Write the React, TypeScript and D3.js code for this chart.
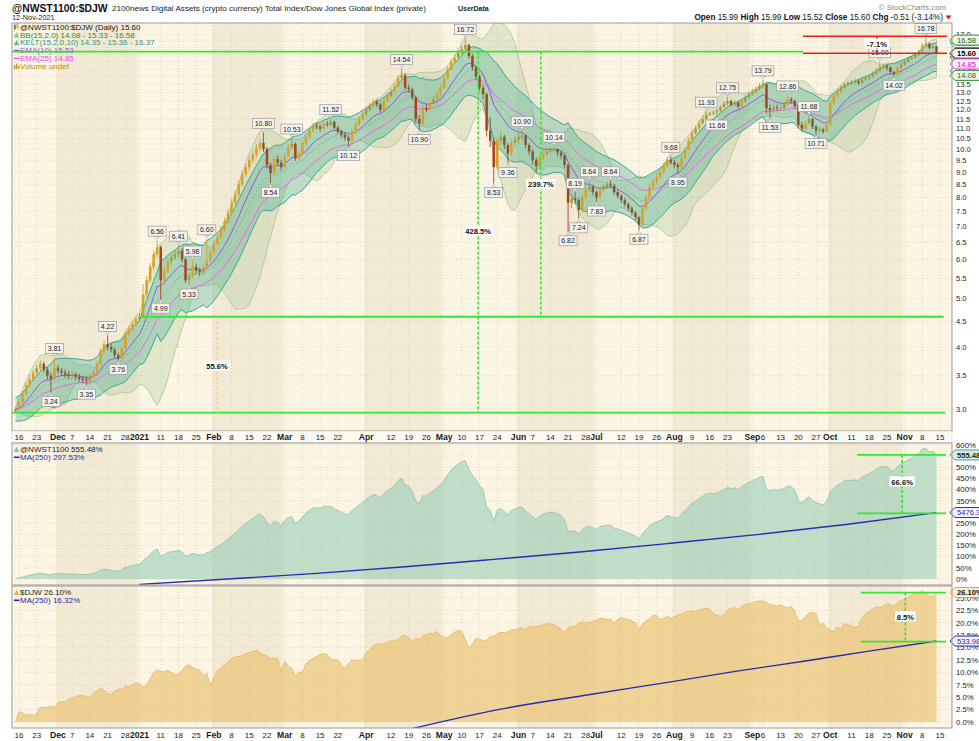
import React from 'react';
import * as d3 from 'd3';

// @NWST1100:$DJW daily bars, 13-Nov-2020 .. 12-Nov-2021 (one row per week)
const firstOpen = 2.97;
const closes = [3.00,
  3.10, 3.22, 3.35, 3.45, 3.55,
  3.62, 3.70, 3.60, 3.50, 3.45,
  3.62, 3.58, 3.55, 3.52, 3.50,
  3.52, 3.48, 3.45, 3.44, 3.42,
  3.48, 3.55, 3.70, 3.92, 4.05,
  4.00, 3.95, 3.85, 3.80, 3.98,
  4.25, 4.35, 4.45, 4.55, 4.60,
  5.10, 5.45, 5.80, 6.15, 6.35,
  5.45, 5.70, 5.95, 6.05, 6.15,
  6.25, 6.00, 5.45, 5.55, 5.80,
  5.70, 5.65, 5.75, 5.95, 6.20,
  6.45, 6.65, 6.90, 7.15, 7.45,
  7.80, 8.10, 8.50, 8.90, 9.20,
  9.50, 9.75, 10.05, 10.30, 10.00,
  9.30, 8.95, 9.55, 9.40, 9.20,
  9.70, 10.10, 10.25, 9.60, 9.80,
  10.30, 10.60, 10.90, 11.15, 11.10,
  11.00, 11.25, 11.20, 11.35, 11.05,
  10.85, 10.70, 10.55, 10.40, 10.85,
  11.20, 11.50, 11.80, 12.00, 12.20,
  12.45, 12.30, 12.00, 12.50, 12.80,
  13.05, 13.40, 13.90, 14.10, 13.30,
  13.20, 12.70, 11.50, 11.25, 12.10,
  12.00, 12.40, 12.60, 12.90, 13.30,
  13.90, 14.50, 15.00, 15.30, 15.60,
  15.90, 16.20, 15.40, 14.60, 14.00,
  13.30, 12.90, 10.90, 10.40, 9.20,
  10.40, 10.60, 10.20, 9.80, 10.30,
  10.45, 10.60, 10.65, 10.20, 9.90,
  9.50, 9.25, 9.60, 9.80, 9.90,
  10.00, 10.00, 9.85, 9.70, 9.30,
  7.80, 7.95, 7.90, 7.55, 8.00,
  8.30, 8.40, 8.20, 8.00, 8.30,
  8.40, 8.50, 8.45, 8.20, 8.05,
  7.90, 7.75, 7.60, 7.45, 7.30,
  7.05, 7.60, 8.00, 8.40, 8.60,
  8.80, 9.00, 9.25, 9.50, 9.40,
  9.30, 9.20, 9.60, 10.00, 10.40,
  10.80, 11.00, 11.30, 11.50, 11.72,
  11.80, 11.85, 11.95, 12.15, 12.35,
  12.50, 12.30, 12.40, 12.20, 12.50,
  12.70, 12.90, 13.05, 13.20, 13.40,
  13.50, 12.10, 12.00, 12.15, 12.10,
  12.10, 12.30, 12.60, 12.50, 12.20,
  11.20, 11.00, 11.30, 11.50, 11.10,
  10.90, 10.95, 10.85, 11.20, 12.40,
  12.80, 13.10, 13.30, 13.50, 13.60,
  13.60, 13.70, 13.60, 13.80, 13.90,
  14.00, 14.20, 14.40, 14.60, 14.70,
  14.60, 14.30, 14.20, 14.60, 14.80,
  15.00, 15.20, 15.30, 15.50, 15.70,
  16.20, 16.30, 16.00, 16.11, 15.60];

const highs = [3.03,
  3.14, 3.26, 3.40, 3.52, 3.61,
  3.68, 3.76, 3.74, 3.64, 3.56,
  3.81, 3.68, 3.63, 3.60, 3.58,
  3.58, 3.56, 3.53, 3.50, 3.49,
  3.53, 3.60, 3.75, 3.98, 4.12,
  4.22, 4.06, 3.99, 3.90, 4.03,
  4.30, 4.42, 4.52, 4.62, 4.68,
  5.35, 5.55, 5.90, 6.25, 6.56,
  6.40, 5.80, 6.05, 6.15, 6.25,
  6.41, 6.32, 6.05, 5.65, 5.98,
  5.88, 5.78, 5.85, 6.60, 6.30,
  6.55, 6.75, 7.00, 7.28, 7.58,
  7.95, 8.25, 8.65, 9.05, 9.38,
  9.68, 9.92, 10.22, 10.48, 10.80,
  10.10, 9.40, 9.68, 9.72, 9.52,
  9.82, 10.25, 10.53, 10.32, 9.95,
  10.42, 10.75, 11.05, 11.30, 11.32,
  11.22, 11.38, 11.40, 11.52, 11.42,
  11.15, 10.95, 10.82, 10.65, 10.98,
  11.35, 11.65, 11.95, 12.18, 12.38,
  12.62, 12.60, 12.40, 12.65, 12.98,
  13.25, 13.60, 14.10, 14.54, 14.20,
  13.50, 13.30, 12.80, 11.70, 12.25,
  12.30, 12.55, 12.78, 13.08, 13.50,
  14.10, 14.70, 15.20, 15.55, 15.85,
  16.15, 16.72, 16.30, 15.55, 14.75,
  14.10, 13.50, 13.00, 11.60, 10.60,
  10.55, 10.85, 10.70, 10.30, 10.45,
  10.62, 10.78, 10.90, 10.72, 10.28,
  9.98, 9.62, 9.75, 9.95, 10.05,
  10.10, 10.14, 10.05, 9.92, 9.78,
  9.35, 8.10, 8.19, 7.98, 8.10,
  8.42, 8.64, 8.48, 8.25, 8.40,
  8.50, 8.58, 8.64, 8.50, 8.28,
  8.12, 7.98, 7.82, 7.68, 7.52,
  7.35, 7.70, 8.12, 8.52, 8.75,
  8.95, 9.12, 9.40, 9.62, 9.68,
  9.52, 9.40, 9.72, 10.12, 10.55,
  10.95, 11.15, 11.45, 11.68, 11.93,
  11.88, 11.95, 12.05, 12.28, 12.48,
  12.75, 12.58, 12.52, 12.48, 12.62,
  12.85, 13.05, 13.22, 13.38, 13.58,
  13.79, 13.55, 12.30, 12.35, 12.30,
  12.25, 12.45, 12.86, 12.72, 12.58,
  12.25, 11.35, 11.42, 11.68, 11.55,
  11.20, 11.10, 11.05, 11.32, 12.50,
  12.95, 13.25, 13.45, 13.65, 13.75,
  13.78, 13.85, 13.82, 13.95, 14.05,
  14.15, 14.35, 14.58, 15.00, 14.88,
  14.85, 14.68, 14.40, 14.72, 14.95,
  15.15, 15.35, 15.45, 15.65, 15.85,
  16.35, 16.78, 16.40, 16.25, 16.11];

const lows = [2.95,
  2.98, 3.07, 3.18, 3.31, 3.40,
  3.50, 3.58, 3.55, 3.44, 3.24,
  3.42, 3.53, 3.50, 3.47, 3.45,
  3.46, 3.43, 3.40, 3.38, 3.35,
  3.39, 3.45, 3.52, 3.67, 3.88,
  3.94, 3.90, 3.80, 3.76, 3.78,
  3.95, 4.20, 4.30, 4.40, 4.50,
  4.58, 5.02, 5.38, 5.72, 6.05,
  4.99, 5.35, 5.62, 5.85, 5.98,
  6.05, 5.92, 5.38, 5.33, 5.50,
  5.60, 5.55, 5.58, 5.70, 5.88,
  6.12, 6.38, 6.58, 6.82, 7.08,
  7.38, 7.70, 8.02, 8.40, 8.80,
  9.08, 9.38, 9.62, 9.92, 9.88,
  9.15, 8.54, 8.88, 9.28, 9.05,
  9.12, 9.62, 10.00, 9.48, 9.50,
  9.72, 10.20, 10.50, 10.80, 10.98,
  10.85, 10.92, 11.08, 11.10, 10.95,
  10.72, 10.55, 10.40, 10.12, 10.32,
  10.78, 11.10, 11.40, 11.70, 11.90,
  12.10, 12.15, 11.85, 11.92, 12.40,
  12.70, 12.95, 13.30, 13.80, 13.15,
  13.00, 12.55, 11.30, 10.90, 11.15,
  11.85, 11.90, 12.30, 12.50, 12.80,
  13.20, 13.80, 14.40, 14.90, 15.15,
  15.45, 15.75, 15.20, 14.40, 13.80,
  13.10, 12.60, 10.60, 10.10, 8.53,
  9.10, 10.20, 10.00, 9.36, 9.70,
  10.15, 10.30, 10.45, 10.05, 9.72,
  9.30, 8.95, 9.15, 9.50, 9.70,
  9.80, 9.85, 9.70, 9.55, 9.15,
  6.82, 7.60, 7.75, 7.24, 7.45,
  7.92, 8.20, 8.08, 7.83, 7.95,
  8.22, 8.30, 8.35, 8.10, 7.95,
  7.80, 7.65, 7.50, 7.35, 7.18,
  6.87, 7.00, 7.55, 7.92, 8.30,
  8.50, 8.70, 8.92, 9.15, 9.30,
  9.15, 8.95, 9.12, 9.52, 9.92,
  10.30, 10.70, 10.90, 11.20, 11.40,
  11.70, 11.72, 11.66, 11.88, 12.08,
  12.25, 12.18, 12.20, 12.08, 12.12,
  12.40, 12.60, 12.80, 12.95, 13.10,
  13.25, 11.80, 11.53, 11.85, 11.95,
  11.95, 12.00, 12.20, 12.35, 12.05,
  11.05, 10.85, 10.92, 11.20, 10.98,
  10.71, 10.78, 10.75, 10.80, 11.15,
  12.30, 12.70, 13.00, 13.20, 13.40,
  13.45, 13.50, 13.45, 13.52, 13.70,
  13.80, 13.92, 14.10, 14.30, 14.45,
  14.40, 14.15, 14.02, 14.12, 14.50,
  14.70, 14.90, 15.10, 15.20, 15.40,
  15.62, 16.05, 15.85, 15.90, 15.52];

// $DJW performance, % since first bar
const djwPerf = [0.0,
  2.1, 1.8, 1.4, 1.6, 1.3,
  1.6, 3.0, 2.9, 3.0, 3.2,
  2.9, 3.9, 4.1, 4.0, 4.6,
  4.8, 5.1, 5.4, 5.3, 5.2,
  4.9, 5.8, 6.3, 6.8, 6.5,
  5.7, 5.6, 6.2, 6.6, 6.6,
  7.2, 7.0, 7.6, 7.8, 7.8,
  7.0, 7.5, 8.7, 9.9, 10.5,
  10.2, 10.1, 10.4, 10.0, 9.5,
  9.6, 10.5, 11.2, 11.5, 11.0,
  10.6, 10.5, 9.3, 9.8, 7.4,
  9.0, 10.4, 10.9, 11.5, 12.1,
  12.8, 13.1, 13.2, 13.4, 13.8,
  14.0, 14.2, 14.5, 14.0, 13.6,
  13.3, 12.8, 12.9, 12.8, 10.1,
  12.2, 11.4, 10.8, 9.2, 10.1,
  10.0, 11.7, 12.4, 12.8, 13.2,
  13.6, 13.8, 13.6, 12.6, 12.5,
  12.5, 11.5, 10.8, 11.8, 12.5,
  12.4, 12.5, 12.4, 14.0, 14.5,
  15.4, 15.6, 15.8, 15.7, 16.2,
  16.3, 16.5, 16.5, 17.3, 17.5,
  17.1, 16.3, 16.9, 16.6, 17.3,
  17.6, 17.9, 17.7, 18.3, 17.4,
  17.1, 17.0, 17.6, 18.1, 18.5,
  18.2, 16.6, 14.9, 15.8, 16.9,
  16.7, 16.4, 16.5, 17.2, 17.3,
  17.8, 18.1, 18.0, 18.2, 18.6,
  18.6, 18.9, 19.0, 18.6, 19.3,
  19.2, 19.3, 19.4, 19.6, 19.8,
  19.8, 19.6, 19.2, 18.8, 18.0,
  18.9, 19.3, 19.2, 19.9, 20.2,
  20.0, 20.1, 20.3, 20.6, 20.9,
  20.9, 20.6, 20.8, 19.8, 20.7,
  21.0, 20.8, 20.7, 20.4, 20.0,
  18.6, 19.7, 20.4, 20.8, 21.5,
  21.5, 20.6, 20.9, 21.3, 20.9,
  21.1, 21.6, 21.7, 22.1, 22.3,
  22.4, 22.3, 22.6, 22.8, 23.0,
  22.7, 21.9, 21.5, 21.3, 21.7,
  22.6, 22.9, 23.1, 22.6, 23.4,
  23.7, 23.8, 24.0, 24.3, 24.4,
  24.4, 24.1, 23.6, 23.6, 23.4,
  23.6, 23.2, 23.0, 23.3, 22.3,
  20.3, 20.4, 21.2, 22.0, 22.1,
  21.8, 19.6, 19.9, 19.0, 18.6,
  18.2, 19.2, 18.7, 19.9, 19.6,
  19.3, 19.1, 19.4, 21.0, 21.9,
  22.2, 22.8, 23.2, 23.1, 23.4,
  23.9, 23.6, 23.4, 24.1, 24.5,
  24.8, 25.2, 25.6, 26.0, 26.2,
  26.3, 26.0, 25.3, 25.4, 26.1];

// MA(250) of the two performance lines, [bar index, %]
const nwstMa: [number, number][] = [[35, -24], [60, 0], [85, 25], [110, 55], [135, 88], [160, 122], [185, 160], [210, 200], [235, 245], [260, 297.5]];
const djwMa: [number, number][] = [[108, -2.0], [137, 2.6], [160, 5.3], [185, 8.1], [205, 10.4], [222, 12.2], [240, 14.2], [260, 16.32]];

// labelled swing points [bar index, price, H/L]
const pivots: [number, number, string][] = [
  [10, 3.24, 'L'], [11, 3.81, 'H'], [20, 3.35, 'L'], [26, 4.22, 'H'], [29, 3.76, 'L'],
  [40, 6.56, 'H'], [41, 4.99, 'L'], [46, 6.41, 'H'], [49, 5.33, 'L'], [50, 5.98, 'H'],
  [54, 6.60, 'H'], [70, 10.80, 'H'], [72, 8.54, 'L'], [78, 10.53, 'H'], [89, 11.52, 'H'],
  [94, 10.12, 'L'], [109, 14.54, 'H'], [114, 10.90, 'L'], [127, 16.72, 'H'], [135, 8.53, 'L'],
  [139, 9.36, 'L'], [143, 10.90, 'H'], [152, 10.14, 'H'], [156, 6.82, 'L'], [158, 8.19, 'H'],
  [159, 7.24, 'L'], [162, 8.64, 'H'], [164, 7.83, 'L'], [168, 8.64, 'H'], [176, 6.87, 'L'],
  [185, 9.68, 'H'], [187, 8.95, 'L'], [195, 11.93, 'H'], [198, 11.66, 'L'], [201, 12.75, 'H'],
  [211, 13.79, 'H'], [213, 11.53, 'L'], [218, 12.86, 'H'], [224, 11.68, 'H'], [226, 10.71, 'L'],
  [244, 15.00, 'H'], [248, 14.02, 'L'], [257, 16.78, 'H'],
];

const tickLabels: [string, string, number][] = [
  ['2020-11-16', '16', 0], ['2020-11-23', '23', 0], ['2020-12-01', 'Dec', 1], ['2020-12-07', '7', 0],
  ['2020-12-14', '14', 0], ['2020-12-21', '21', 0], ['2020-12-28', '28', 0], ['2021-01-01', '2021', 1],
  ['2021-01-11', '11', 0], ['2021-01-18', '18', 0], ['2021-01-25', '25', 0], ['2021-02-01', 'Feb', 1],
  ['2021-02-08', '8', 0], ['2021-02-15', '15', 0], ['2021-02-22', '22', 0], ['2021-03-01', 'Mar', 1],
  ['2021-03-08', '8', 0], ['2021-03-15', '15', 0], ['2021-03-22', '22', 0], ['2021-04-01', 'Apr', 1],
  ['2021-04-12', '12', 0], ['2021-04-19', '19', 0], ['2021-04-26', '26', 0], ['2021-05-03', 'May', 1],
  ['2021-05-10', '10', 0], ['2021-05-17', '17', 0], ['2021-05-24', '24', 0], ['2021-06-01', 'Jun', 1],
  ['2021-06-07', '7', 0], ['2021-06-14', '14', 0], ['2021-06-21', '21', 0], ['2021-06-28', '28', 0],
  ['2021-07-01', 'Jul', 1], ['2021-07-12', '12', 0], ['2021-07-19', '19', 0], ['2021-07-26', '26', 0],
  ['2021-08-02', 'Aug', 1], ['2021-08-09', '9', 0], ['2021-08-16', '16', 0], ['2021-08-23', '23', 0],
  ['2021-09-01', 'Sep', 1], ['2021-09-06', '6', 0], ['2021-09-13', '13', 0], ['2021-09-20', '20', 0],
  ['2021-09-27', '27', 0], ['2021-10-01', 'Oct', 1], ['2021-10-11', '11', 0], ['2021-10-18', '18', 0],
  ['2021-10-25', '25', 0], ['2021-11-01', 'Nov', 1], ['2021-11-08', '8', 0], ['2021-11-15', '15', 0],
];

const priceTicks = ['3.0', '3.5', '4.0', '4.5', '5.0', '5.5', '6.0', '6.5', '7.0', '7.5', '8.0', '8.5', '9.0', '9.5',
  '10.0', '10.5', '11.0', '11.5', '12.0', '12.5', '13.0', '13.5', '14.0', '14.5', '15.0', '15.5', '16.0', '16.5', '17.0'];
const nwstTicks = ['0%', '50%', '100%', '150%', '200%', '250%', '300%', '350%', '400%', '450%', '500%', '550%', '600%'];
const djwTicks = ['0.0%', '2.5%', '5.0%', '7.5%', '10.0%', '12.5%', '15.0%', '17.5%', '20.0%', '22.5%', '25.0%'];

// trend lines drawn on the chart (bar index span, level)
const priceLines = [
  { i0: -1, i1: 222.3, v: 15.72, kind: 'green' },
  { i0: 222.3, i1: 263, v: 15.60, kind: 'red' },
  { i0: 222.3, i1: 263, v: 16.88, kind: 'red' },
  { i0: 35, i1: 262, v: 4.60, kind: 'green' },
  { i0: -1, i1: 262.5, v: 2.95, kind: 'green' },
];
const priceSpans = [
  { i: 130.6, v0: 15.72, v1: 2.95, lv: 6.85, label: '428.5%', kind: 'green' },
  { i: 148.3, v0: 15.72, v1: 4.60, lv: 8.5, label: '239.7%', kind: 'green' },
  { i: 56.9, v0: 4.60, v1: 2.95, lv: 3.66, label: '55.6%', kind: 'orange' },
  { i: 243.2, v0: 16.88, v1: 15.60, lv: 16.28, label: '-7.1%', kind: 'red' },
];
const nwstLines = [{ i0: 237.6, i1: 262.7, v: 555.48 }, { i0: 237.6, i1: 262.7, v: 293.4 }];
const nwstSpan = { i: 250.3, v0: 555.48, v1: 293.4, lv: 435, label: '66.6%' };
const djwLines = [{ i0: 238.6, i1: 262.7, v: 26.1 }, { i0: 238.6, i1: 262.7, v: 16.2 }];
const djwSpan = { i: 251.2, v0: 26.1, v1: 16.2, lv: 21.2, label: '8.5%' };

const W = 979, H = 741, L = 12, R = 952;
const mainTop = 23, mainBot = 431, midTop = 443, midBot = 585, botTop = 586, botBot = 728;
const F = 'Liberation Sans, Arial, sans-serif';
const LIGHT = '#fcf5e3', DARK = '#f3ead6', GRID = '#d6ccb8';
const LIME = '#33e633', RED = '#ee2020', BLUE = '#2b2bb0';

function tradingDays(start: string, count: number) {
  const out: string[] = [];
  const d = new Date(start + 'T00:00:00Z');
  while (out.length < count) {
    const wd = d.getUTCDay();
    if (wd !== 0 && wd !== 6) out.push(d.toISOString().slice(0, 10));
    d.setUTCDate(d.getUTCDate() + 1);
  }
  return out;
}

function emaOf(vals: number[], n: number) {
  const k = 2 / (n + 1);
  const out: number[] = [];
  vals.forEach((v, i) => out.push(i === 0 ? v : v * k + out[i - 1] * (1 - k)));
  return out;
}

function Tag({ y, text, stroke, color, fill, bold }: any) {
  return (
    <g>
      <path d={`M${R - 2},${y} L${R + 3},${y - 5} H${W + 2} V${y + 5} H${R + 3} Z`} fill={fill} stroke={stroke} strokeWidth={1} />
      <text x={R + 5} y={y + 2.7} fontSize={7.6} fontWeight={bold ? 'bold' : 'normal'} fill={color} fontFamily={F}>{text}</text>
    </g>
  );
}

function PctLabel({ x, y, text }: any) {
  const w = text.length * 4.4 + 3;
  return (
    <g>
      <rect x={x - w / 2} y={y - 5.5} width={w} height={10} fill="#fff" />
      <text x={x} y={y + 2.8} textAnchor="middle" fontSize={7.6} fontWeight="bold" fontFamily={F} fill="#111">{text}</text>
    </g>
  );
}

export default function App() {
  const N = closes.length;
  const dates = tradingDays('2020-11-13', N + 1);
  const idx = (d: string) => dates.indexOf(d);
  const x = d3.scaleLinear().domain([0, N - 1]).range([15.5, 936.5]);
  const step = x(1) - x(0);
  const yP = d3.scaleLog().domain([3, 17]).range([409, 34.7]);
  const yN = d3.scaleLinear().domain([0, 600]).range([579, 445]);
  const yD = d3.scaleLinear().domain([0, 25]).range([722, 598]);

  const opens = closes.map((c, i) => (i === 0 ? firstOpen : closes[i - 1]));

  // indicators
  const bbMid: number[] = [], bbUp: number[] = [], bbLo: number[] = [];
  closes.forEach((_, i) => {
    const w = closes.slice(Math.max(0, i - 14), i + 1);
    const m = d3.mean(w) as number;
    const sd = Math.sqrt(d3.mean(w.map((v) => (v - m) ** 2)) as number);
    bbMid.push(m); bbUp.push(m + 2 * sd); bbLo.push(m - 2 * sd);
  });
  const tr = closes.map((c, i) => i === 0 ? highs[0] - lows[0]
    : Math.max(highs[i] - lows[i], Math.abs(highs[i] - closes[i - 1]), Math.abs(lows[i] - closes[i - 1])));
  const atr: number[] = [];
  tr.forEach((t, i) => atr.push(i === 0 ? t : (atr[i - 1] * 9 + t) / 10));
  const kMid = emaOf(closes, 15);
  const kUp = kMid.map((m, i) => m + 2 * atr[i]);
  const kLo = kMid.map((m, i) => m - 2 * atr[i]);
  const ema10 = emaOf(closes, 10);
  const ema25 = emaOf(closes, 25);

  const nwstPerf = closes.map((c, i) => ((c / closes[0]) * (1 + djwPerf[i] / 100) - 1) * 100);

  const band = (up: number[], lo: number[]) =>
    d3.area<number>().x((_, i) => x(i)).y0((_, i) => yP(lo[i])).y1((d) => yP(d))(up) as string;
  const pLine = (vals: number[]) => d3.line<number>().x((_, i) => x(i)).y((d) => yP(d))(vals) as string;

  const nwstArea = d3.area<number>().x((_, i) => x(i)).y0(yN(0)).y1((d) => yN(d))(nwstPerf) as string;
  const nwstEdge = d3.line<number>().x((_, i) => x(i)).y((d) => yN(d))(nwstPerf) as string;
  const djwArea = d3.area<number>().x((_, i) => x(i)).y0(yD(0)).y1((d) => yD(d))(djwPerf) as string;
  const djwEdge = d3.line<number>().x((_, i) => x(i)).y((d) => yD(d))(djwPerf) as string;
  const nwstMaPath = d3.line<[number, number]>().x((d) => x(d[0])).y((d) => yN(d[1])).curve(d3.curveMonotoneX)(nwstMa) as string;
  const djwMaPath = d3.line<[number, number]>().x((d) => x(d[0])).y((d) => yD(d[1])).curve(d3.curveMonotoneX)(djwMa) as string;

  // month shading
  const starts = d3.range(N).filter((i) => i === 0 || dates[i].slice(0, 7) !== dates[i - 1].slice(0, 7));
  const bands = starts.map((s, k) => ({
    x0: k === 0 ? L : x(s) - step / 2,
    x1: k < starts.length - 1 ? x(starts[k + 1]) - step / 2 : R,
    dark: +dates[s].slice(5, 7) % 2 === 0,
  }));
  const tickX = tickLabels.map(([d]) => x(idx(d)));

  const panelBg = (top: number, bottom: number) => (
    <g>
      <rect x={L} y={top} width={R - L} height={bottom - top} fill={LIGHT} />
      {bands.map((b, k) => (
        <rect key={k} x={b.x0} y={top} width={b.x1 - b.x0} height={bottom - top} fill={b.dark ? DARK : LIGHT} />
      ))}
      {tickX.map((tx, k) => (
        <line key={k} x1={tx} x2={tx} y1={top} y2={bottom} stroke={GRID} strokeWidth={0.7} strokeDasharray="1,2" />
      ))}
    </g>
  );

  const hGrid = (ys: number[]) => ys.map((y, k) => (
    <line key={k} x1={L} x2={R} y1={y} y2={y} stroke={GRID} strokeWidth={0.7} strokeDasharray="1,2" />
  ));

  const xLabels = (y: number) => tickLabels.map(([d, t, b]) => (
    <text key={d} x={x(idx(d))} y={y} textAnchor="middle" fontSize={b ? 8.6 : 8} fontWeight={b ? 'bold' : 'normal'}
      fontFamily={F} fill="#1a1a1a">{t}</text>
  ));

  const candleColor = (o: number, c: number) => {
    if (c >= o) return c / o - 1 > 0.02 ? '#d8a024' : '#a39b3b';
    return o / c - 1 > 0.05 ? '#a8441c' : '#7d5a36';
  };

  const spanColor = (k: string) => (k === 'red' ? RED : k === 'orange' ? '#f2c46e' : LIME);

  return (
    <div>
      <style>{'body{margin:0;background:#fff}'}</style>
      <svg width={W} height={H} viewBox={`0 0 ${W} ${H}`} style={{ display: 'block', background: '#fff' }}>
        <defs>
          <clipPath id="cMain"><rect x={L} y={mainTop} width={R - L} height={mainBot - mainTop} /></clipPath>
          <clipPath id="cMid"><rect x={L} y={midTop} width={R - L} height={midBot - midTop} /></clipPath>
          <clipPath id="cBot"><rect x={L} y={botTop} width={R - L} height={botBot - botTop} /></clipPath>
        </defs>

        {/* header */}
        <text x={L} y={11.5} fontSize={10.4} fontWeight="bold" fontFamily={F} fill="#111">@NWST1100:$DJW</text>
        <text x={112} y={11} fontSize={8.1} fontFamily={F} fill="#222">2100news Digital Assets (crypto currency) Total Index/Dow Jones Global Index (private)</text>
        <text x={458} y={11} fontSize={7} fontWeight="bold" fontFamily={F} fill="#222">UserData</text>
        <text x={L} y={19.6} fontSize={7.4} fontFamily={F} fill="#222">12-Nov-2021</text>
        <text x={946} y={9.5} textAnchor="end" fontSize={7.8} fontFamily={F} fill="#888">© StockCharts.com</text>
        <text x={943} y={19.5} textAnchor="end" fontSize={8.2} fontFamily={F} fill="#111">
          <tspan fontWeight="bold">Open</tspan> 15.99 <tspan fontWeight="bold">High</tspan> 15.99{' '}
          <tspan fontWeight="bold">Low</tspan> 15.52 <tspan fontWeight="bold">Close</tspan> 15.60{' '}
          <tspan fontWeight="bold">Chg</tspan> -0.51 (-3.14%)
        </text>
        <path d="M945.5,15.5 L951.5,15.5 L948.5,19.5 Z" fill="#d02020" />

        {/* ===== main price panel ===== */}
        {panelBg(mainTop, mainBot)}
        {hGrid(priceTicks.map((t) => yP(+t)))}
        <g clipPath="url(#cMain)">
          <path d={band(bbUp, bbLo)} fill="#a8c693" fillOpacity={0.3} stroke="#9cc28a" strokeWidth={0.7} />
          <path d={band(kUp, kLo)} fill="#3fae94" fillOpacity={0.33} />
          <path d={pLine(kUp)} fill="none" stroke="#3aa596" strokeWidth={1} />
          <path d={pLine(kLo)} fill="none" stroke="#3aa596" strokeWidth={1} />
          <path d={pLine(kMid)} fill="none" stroke="#57a99b" strokeWidth={0.7} strokeDasharray="2,2" />
          <path d={pLine(bbMid)} fill="none" stroke="#8fb883" strokeWidth={0.6} strokeDasharray="1,2" />
          <path d={pLine(ema25)} fill="none" stroke="#ee62ee" strokeWidth={1} />
          <path d={pLine(ema10)} fill="none" stroke="#9058dc" strokeWidth={1} />
          {closes.map((c, i) => {
            const o = opens[i];
            const col = candleColor(o, c);
            const top = yP(Math.max(o, c));
            const h = Math.max(1, yP(Math.min(o, c)) - top);
            return (
              <g key={i}>
                <line x1={x(i)} x2={x(i)} y1={yP(highs[i])} y2={yP(lows[i])} stroke={col} strokeWidth={0.9} />
                <rect x={x(i) - 1.25} y={top} width={2.5} height={h} fill={col} />
              </g>
            );
          })}
        </g>

        {/* main legend */}
        <g fontFamily={F} fontSize={8}>
          <rect x={14} y={24.5} width={1.6} height={5} fill="#7d5a36" />
          <rect x={16.6} y={23.5} width={1.6} height={5} fill="#d8a024" />
          <text x={20} y={29.5} fill="#111">@NWST1100:$DJW (Daily) 15.60</text>
          <path d="M14,37.5 L16.5,32 L19,37.5 Z" fill="#8fbf7a" />
          <text x={20} y={37.5} fill="#2e8a2e">BB(15,2.0) 14.08 - 15.33 - 16.58</text>
          <path d="M14,45.3 L16.5,39.8 L19,45.3 Z" fill="#5cb8a4" />
          <text x={20} y={45.3} fill="#289a88">KELT(15,2.0,10) 14.35 - 15.36 - 16.37</text>
          <line x1={14} x2={19.5} y1={50.5} y2={50.5} stroke="#9058dc" strokeWidth={1.6} />
          <text x={20} y={53.1} fill="#9058dc">EMA(10) 15.53</text>
          <line x1={14} x2={19.5} y1={58.4} y2={58.4} stroke="#ee62ee" strokeWidth={1.6} />
          <text x={20} y={61} fill="#ee48ee">EMA(25) 14.85</text>
          <rect x={14} y={65} width={1.4} height={4} fill="#c8962c" />
          <rect x={16} y={63.5} width={1.4} height={5.5} fill="#c8962c" />
          <rect x={18} y={66} width={1.4} height={3} fill="#c8962c" />
          <text x={20} y={69} fill="#c08a20">Volume undef</text>
        </g>

        {/* swing labels */}
        {pivots.map(([i, v, t]) => {
          const px = x(i);
          const py = yP(v);
          const txt = v.toFixed(2);
          const w = txt.length * 3.75 + 3;
          const by = t === 'H' ? py - 14 : py + 4;
          const tip = t === 'H' ? `M${px - 2.5},${by + 10} L${px},${py - 1} L${px + 2.5},${by + 10} Z`
            : `M${px - 2.5},${by} L${px},${py + 1} L${px + 2.5},${by} Z`;
          return (
            <g key={i}>
              <path d={tip} fill="#f4f3ee" stroke="#9a9a9a" strokeWidth={0.6} />
              <rect x={px - w / 2} y={by} width={w} height={10} fill="#f4f3ee" stroke="#9a9a9a" strokeWidth={0.7} />
              <text x={px} y={by + 7.6} textAnchor="middle" fontSize={7} fontFamily={F} fill="#222">{txt}</text>
            </g>
          );
        })}

        {/* trend lines and measures */}
        {priceLines.map((l, k) => (
          <line key={k} x1={x(l.i0)} x2={x(l.i1)} y1={yP(l.v)} y2={yP(l.v)} stroke={l.kind === 'red' ? RED : LIME}
            strokeWidth={l.kind === 'red' ? 1.5 : 1.8} />
        ))}
        {priceSpans.map((s, k) => (
          <g key={k}>
            <line x1={x(s.i)} x2={x(s.i)} y1={yP(s.v0)} y2={yP(s.v1)} stroke={spanColor(s.kind)}
              strokeWidth={s.kind === 'orange' ? 1 : 1.6} strokeDasharray="3,2" />
            <PctLabel x={x(s.i)} y={yP(s.lv)} text={s.label} />
          </g>
        ))}

        {/* main axis */}
        {priceTicks.map((t) => (
          <text key={t} x={R + 4} y={yP(+t) + 2.6} fontSize={7.6} fontFamily={F} fill="#222">{t}</text>
        ))}
        <Tag y={yP(16.37)} text="16.37" stroke="#2aa090" color="#1f8070" fill="#e8f5f0" />
        <Tag y={yP(16.58)} text="16.58" stroke="#2e8a2e" color="#1d5f1d" fill="#eef6e6" />
        <Tag y={yP(15.33)} text="15.33" stroke="#2e8a2e" color="#1d5f1d" fill="#eef6e6" />
        <Tag y={yP(15.53)} text="15.53" stroke="#9058dc" color="#6a38b0" fill="#f2eafb" />
        <Tag y={yP(15.60)} text="15.60" stroke="#111" color="#000" fill="#f4f4f4" bold />
        <Tag y={yP(14.35)} text="14.35" stroke="#2aa090" color="#1f8070" fill="#e8f5f0" />
        <Tag y={yP(14.85)} text="14.85" stroke="#ee48ee" color="#c020c0" fill="#fcecfc" />
        <Tag y={yP(14.08)} text="14.08" stroke="#2e8a2e" color="#1d5f1d" fill="#eef6e6" />
        <rect x={L} y={mainTop} width={R - L} height={mainBot - mainTop} fill="none" stroke="#9a9a9a" strokeWidth={1} />

        {/* x axis row */}
        <rect x={L} y={mainBot} width={R - L} height={midTop - mainBot} fill="#fdfaf2" stroke="#b0b0b0" strokeWidth={0.6} strokeDasharray="1,1" />
        {xLabels(440.2)}

        {/* ===== @NWST1100 performance ===== */}
        {panelBg(midTop, midBot)}
        {hGrid(nwstTicks.map((t) => yN(parseFloat(t))))}
        <g clipPath="url(#cMid)">
          <path d={nwstArea} fill="#8fcbb4" fillOpacity={0.55} />
          <path d={nwstEdge} fill="none" stroke="#8cc2aa" strokeWidth={0.8} />
          <path d={nwstMaPath} fill="none" stroke={BLUE} strokeWidth={1.4} />
          {nwstLines.map((l, k) => (
            <line key={k} x1={x(l.i0)} x2={x(l.i1)} y1={yN(l.v)} y2={yN(l.v)} stroke={LIME} strokeWidth={1.8} />
          ))}
          <line x1={x(nwstSpan.i)} x2={x(nwstSpan.i)} y1={yN(nwstSpan.v0)} y2={yN(nwstSpan.v1)} stroke={LIME} strokeWidth={1.6} strokeDasharray="3,2" />
          <PctLabel x={x(nwstSpan.i)} y={yN(nwstSpan.lv)} text={nwstSpan.label} />
        </g>
        <g fontFamily={F} fontSize={8}>
          <path d="M14,452 L16.5,446.5 L19,452 Z" fill="#7fbfa6" />
          <text x={20} y={452} fill="#222">@NWST1100 555.48%</text>
          <line x1={14} x2={19.5} y1={457.3} y2={457.3} stroke={BLUE} strokeWidth={1.6} />
          <text x={20} y={459.8} fill={BLUE}>MA(250) 297.53%</text>
        </g>
        {nwstTicks.map((t) => (
          <text key={t} x={R + 4} y={yN(parseFloat(t)) + 2.7} fontSize={7.8} fontFamily={F} fill="#222">{t}</text>
        ))}
        <Tag y={yN(555.48)} text="555.48" stroke="#5a9d92" color="#0d2a26" fill="#d7ece4" bold />
        <Tag y={yN(297.53)} text="5476.3" stroke={BLUE} color={BLUE} fill="#f2f2fc" />
        <rect x={L} y={midTop} width={R - L} height={midBot - midTop} fill="none" stroke="#9a9a9a" strokeWidth={1} />

        {/* ===== $DJW performance ===== */}
        {panelBg(botTop, botBot)}
        {hGrid(djwTicks.map((t) => yD(parseFloat(t))))}
        <g clipPath="url(#cBot)">
          <path d={djwArea} fill="#e8bf68" fillOpacity={0.62} />
          <path d={djwEdge} fill="none" stroke="#e2b863" strokeWidth={0.8} />
          <path d={djwMaPath} fill="none" stroke={BLUE} strokeWidth={1.4} />
          {djwLines.map((l, k) => (
            <line key={k} x1={x(l.i0)} x2={x(l.i1)} y1={yD(l.v)} y2={yD(l.v)} stroke={LIME} strokeWidth={1.8} />
          ))}
          <line x1={x(djwSpan.i)} x2={x(djwSpan.i)} y1={yD(djwSpan.v0)} y2={yD(djwSpan.v1)} stroke={LIME} strokeWidth={1.6} strokeDasharray="3,2" />
          <PctLabel x={x(djwSpan.i)} y={yD(djwSpan.lv)} text={djwSpan.label} />
        </g>
        <g fontFamily={F} fontSize={8}>
          <path d="M14,595 L16.5,589.5 L19,595 Z" fill="#e0b050" />
          <text x={20} y={595} fill="#222">$DJW 26.10%</text>
          <line x1={14} x2={19.5} y1={600.3} y2={600.3} stroke={BLUE} strokeWidth={1.6} />
          <text x={20} y={602.8} fill={BLUE}>MA(250) 16.32%</text>
        </g>
        {djwTicks.map((t) => (
          <text key={t} x={R + 4} y={yD(parseFloat(t)) + 2.7} fontSize={7.8} fontFamily={F} fill="#222">{t}</text>
        ))}
        <Tag y={yD(26.1)} text="26.10%" stroke="#e0a030" color="#111" fill="#fbeed2" bold />
        <Tag y={yD(16.32)} text="533.98" stroke={BLUE} color={BLUE} fill="#f2f2fc" />
        <rect x={L} y={botTop} width={R - L} height={botBot - botTop} fill="none" stroke="#9a9a9a" strokeWidth={1} />
        {xLabels(737.5)}
      </svg>
    </div>
  );
}
